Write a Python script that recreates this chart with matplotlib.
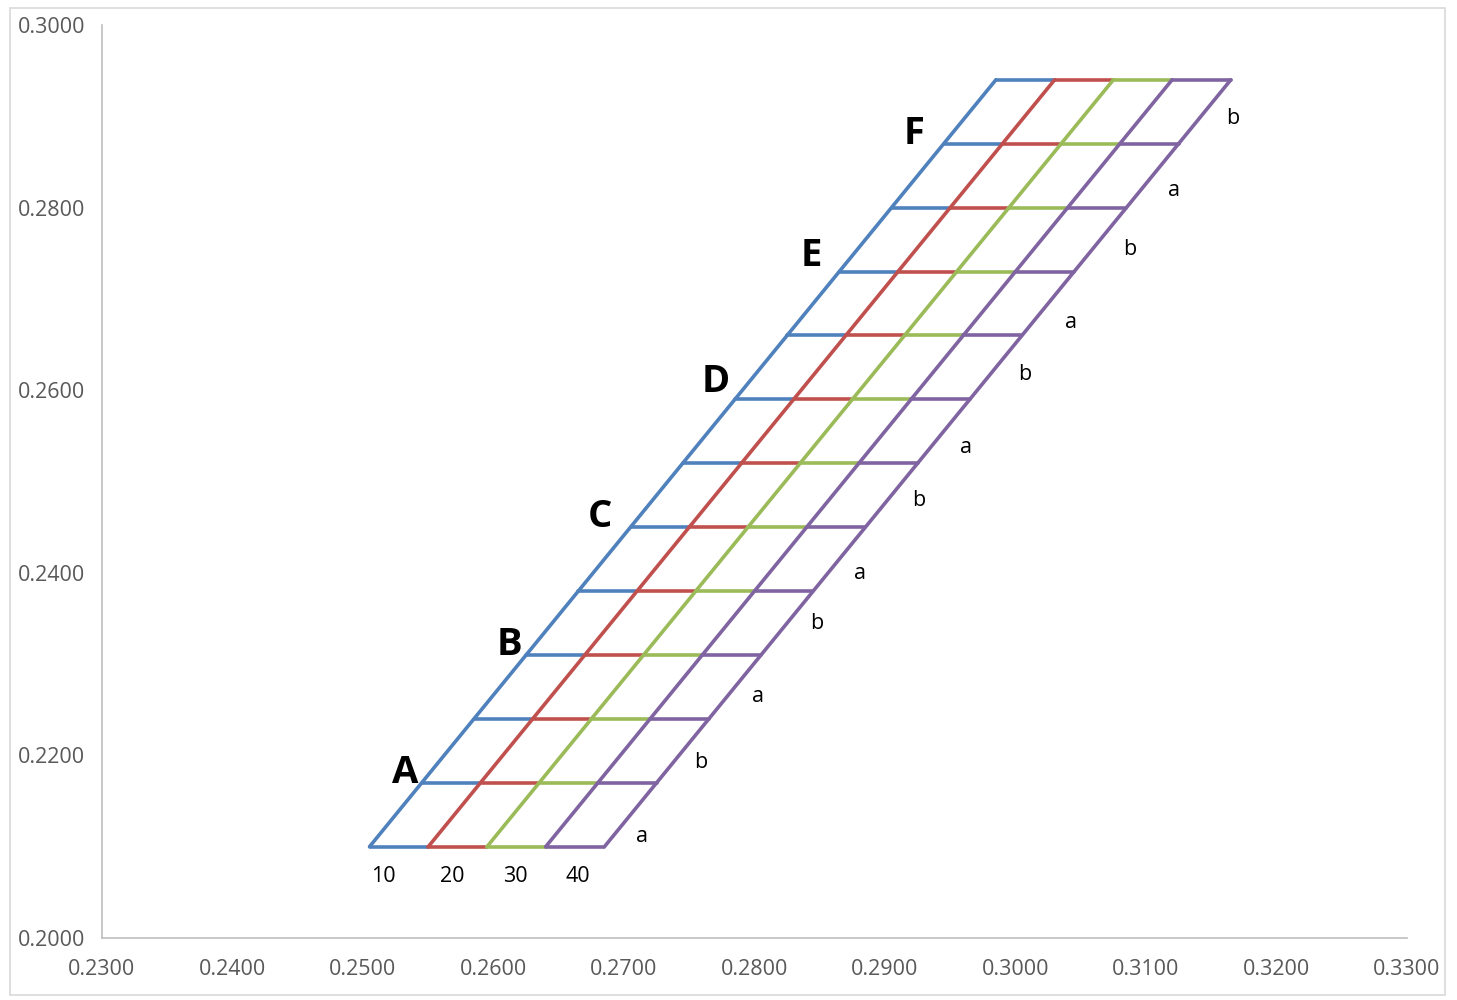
import matplotlib
matplotlib.use("Agg")
import matplotlib.pyplot as plt
from matplotlib.patches import Rectangle

# ---- data ----
row_y = [0.210, 0.217, 0.224, 0.231, 0.238, 0.245, 0.252,
         0.259, 0.266, 0.273, 0.280, 0.287, 0.294]
col0_x = [0.2505, 0.2545, 0.2585, 0.2625, 0.2665, 0.2705, 0.2745,
          0.2785, 0.2825, 0.2865, 0.2905, 0.2945, 0.2985]
col1_x = [0.2550, 0.2590, 0.2630, 0.2670, 0.2710, 0.2750, 0.2790,
          0.2830, 0.2870, 0.2910, 0.2950, 0.2990, 0.3030]
col2_x = [0.2595, 0.2635, 0.2675, 0.2715, 0.2755, 0.2795, 0.2835,
          0.2875, 0.2915, 0.2955, 0.2995, 0.3035, 0.3075]
col3_x = [0.2640, 0.2680, 0.2720, 0.2760, 0.2800, 0.2840, 0.2880,
          0.2920, 0.2960, 0.3000, 0.3040, 0.3080, 0.3120]
col4_x = [0.2685, 0.2725, 0.2765, 0.2805, 0.2845, 0.2885, 0.2925,
          0.2965, 0.3005, 0.3045, 0.3085, 0.3125, 0.3165]

series_names = ["10", "20", "30", "40"]
series_colors = ["#4F81BD", "#C0504D", "#9BBB59", "#8064A2"]

# text labels
cap_labels = ["A", "B", "C", "D", "E", "F"]
cap_x = [0.25322, 0.26119, 0.26816, 0.27705, 0.28433, 0.29222]
cap_y = [0.21700, 0.23100, 0.24500, 0.25980, 0.27360, 0.28700]

ab_labels = ["a", "b", "a", "b", "a", "b", "a", "b", "a", "b", "a", "b"]
ab_x = [0.27138, 0.27590, 0.28027, 0.28479, 0.28808, 0.29261,
        0.29621, 0.30073, 0.30425, 0.30877, 0.31215, 0.31667]
ab_y = [0.21051, 0.21862, 0.22585, 0.23384, 0.23932, 0.24732,
        0.25312, 0.26112, 0.26681, 0.27481, 0.28127, 0.28916]

num_x = [0.25153, 0.25682, 0.26165, 0.26648]
num_y = 0.20613

x_ticks = [0.23, 0.24, 0.25, 0.26, 0.27, 0.28, 0.29, 0.30, 0.31, 0.32, 0.33]
y_ticks = [0.20, 0.22, 0.24, 0.26, 0.28, 0.30]

# ---- plot ----
plt.rcParams["font.family"] = ["Open Sans", "DejaVu Sans"]
fig = plt.figure(figsize=(14.57, 10), dpi=100)
ax = fig.add_axes([102 / 1457, 62 / 1000, 1305 / 1457, 913 / 1000])

cols = [col0_x, col1_x, col2_x, col3_x, col4_x]
lw = 2.6
for i, (name, color) in enumerate(zip(series_names, series_colors)):
    z = 2 + i
    ax.plot(cols[i], row_y, color=color, lw=lw, solid_capstyle="round",
            solid_joinstyle="round", zorder=z)
    ax.hlines(row_y, cols[i], cols[i + 1], colors=color, lw=lw,
              capstyle="round", zorder=z)
    if i == len(series_names) - 1:
        ax.plot(cols[i + 1], row_y, color=color, lw=lw, solid_capstyle="round",
                zorder=z)

for t, x, y in zip(cap_labels, cap_x, cap_y):
    ax.text(x, y, t, fontsize=27.5, fontweight="bold", ha="center",
            va="baseline", color="black", zorder=10)
for t, x, y in zip(ab_labels, ab_x, ab_y):
    ax.text(x, y, t, fontsize=15.5, ha="center", va="baseline",
            color="black", zorder=10)
for t, x in zip(series_names, num_x):
    ax.text(x, num_y, t, fontsize=15.5, ha="center", va="baseline",
            color="black", zorder=10)

ax.set_xlim(0.23, 0.33)
ax.set_ylim(0.20, 0.30)
ax.set_xticks(x_ticks)
ax.set_yticks(y_ticks)
ax.set_xticklabels([f"{v:.4f}" for v in x_ticks])
ax.set_yticklabels([f"{v:.4f}" for v in y_ticks])
ax.tick_params(axis="both", length=0, labelsize=15.5, labelcolor="#595959")
ax.tick_params(axis="y", pad=12)
ax.tick_params(axis="x", pad=15)
for s in ["top", "right"]:
    ax.spines[s].set_visible(False)
for s in ["left", "bottom"]:
    ax.spines[s].set_color("#BFBFBF")
    ax.spines[s].set_linewidth(1.2)

fig.patches.append(Rectangle((10 / 1457, 5 / 1000), 1435 / 1457, 987 / 1000,
                             transform=fig.transFigure, fill=False,
                             edgecolor="#D9D9D9", lw=1.2))

fig.savefig("out.png", dpi=100)
